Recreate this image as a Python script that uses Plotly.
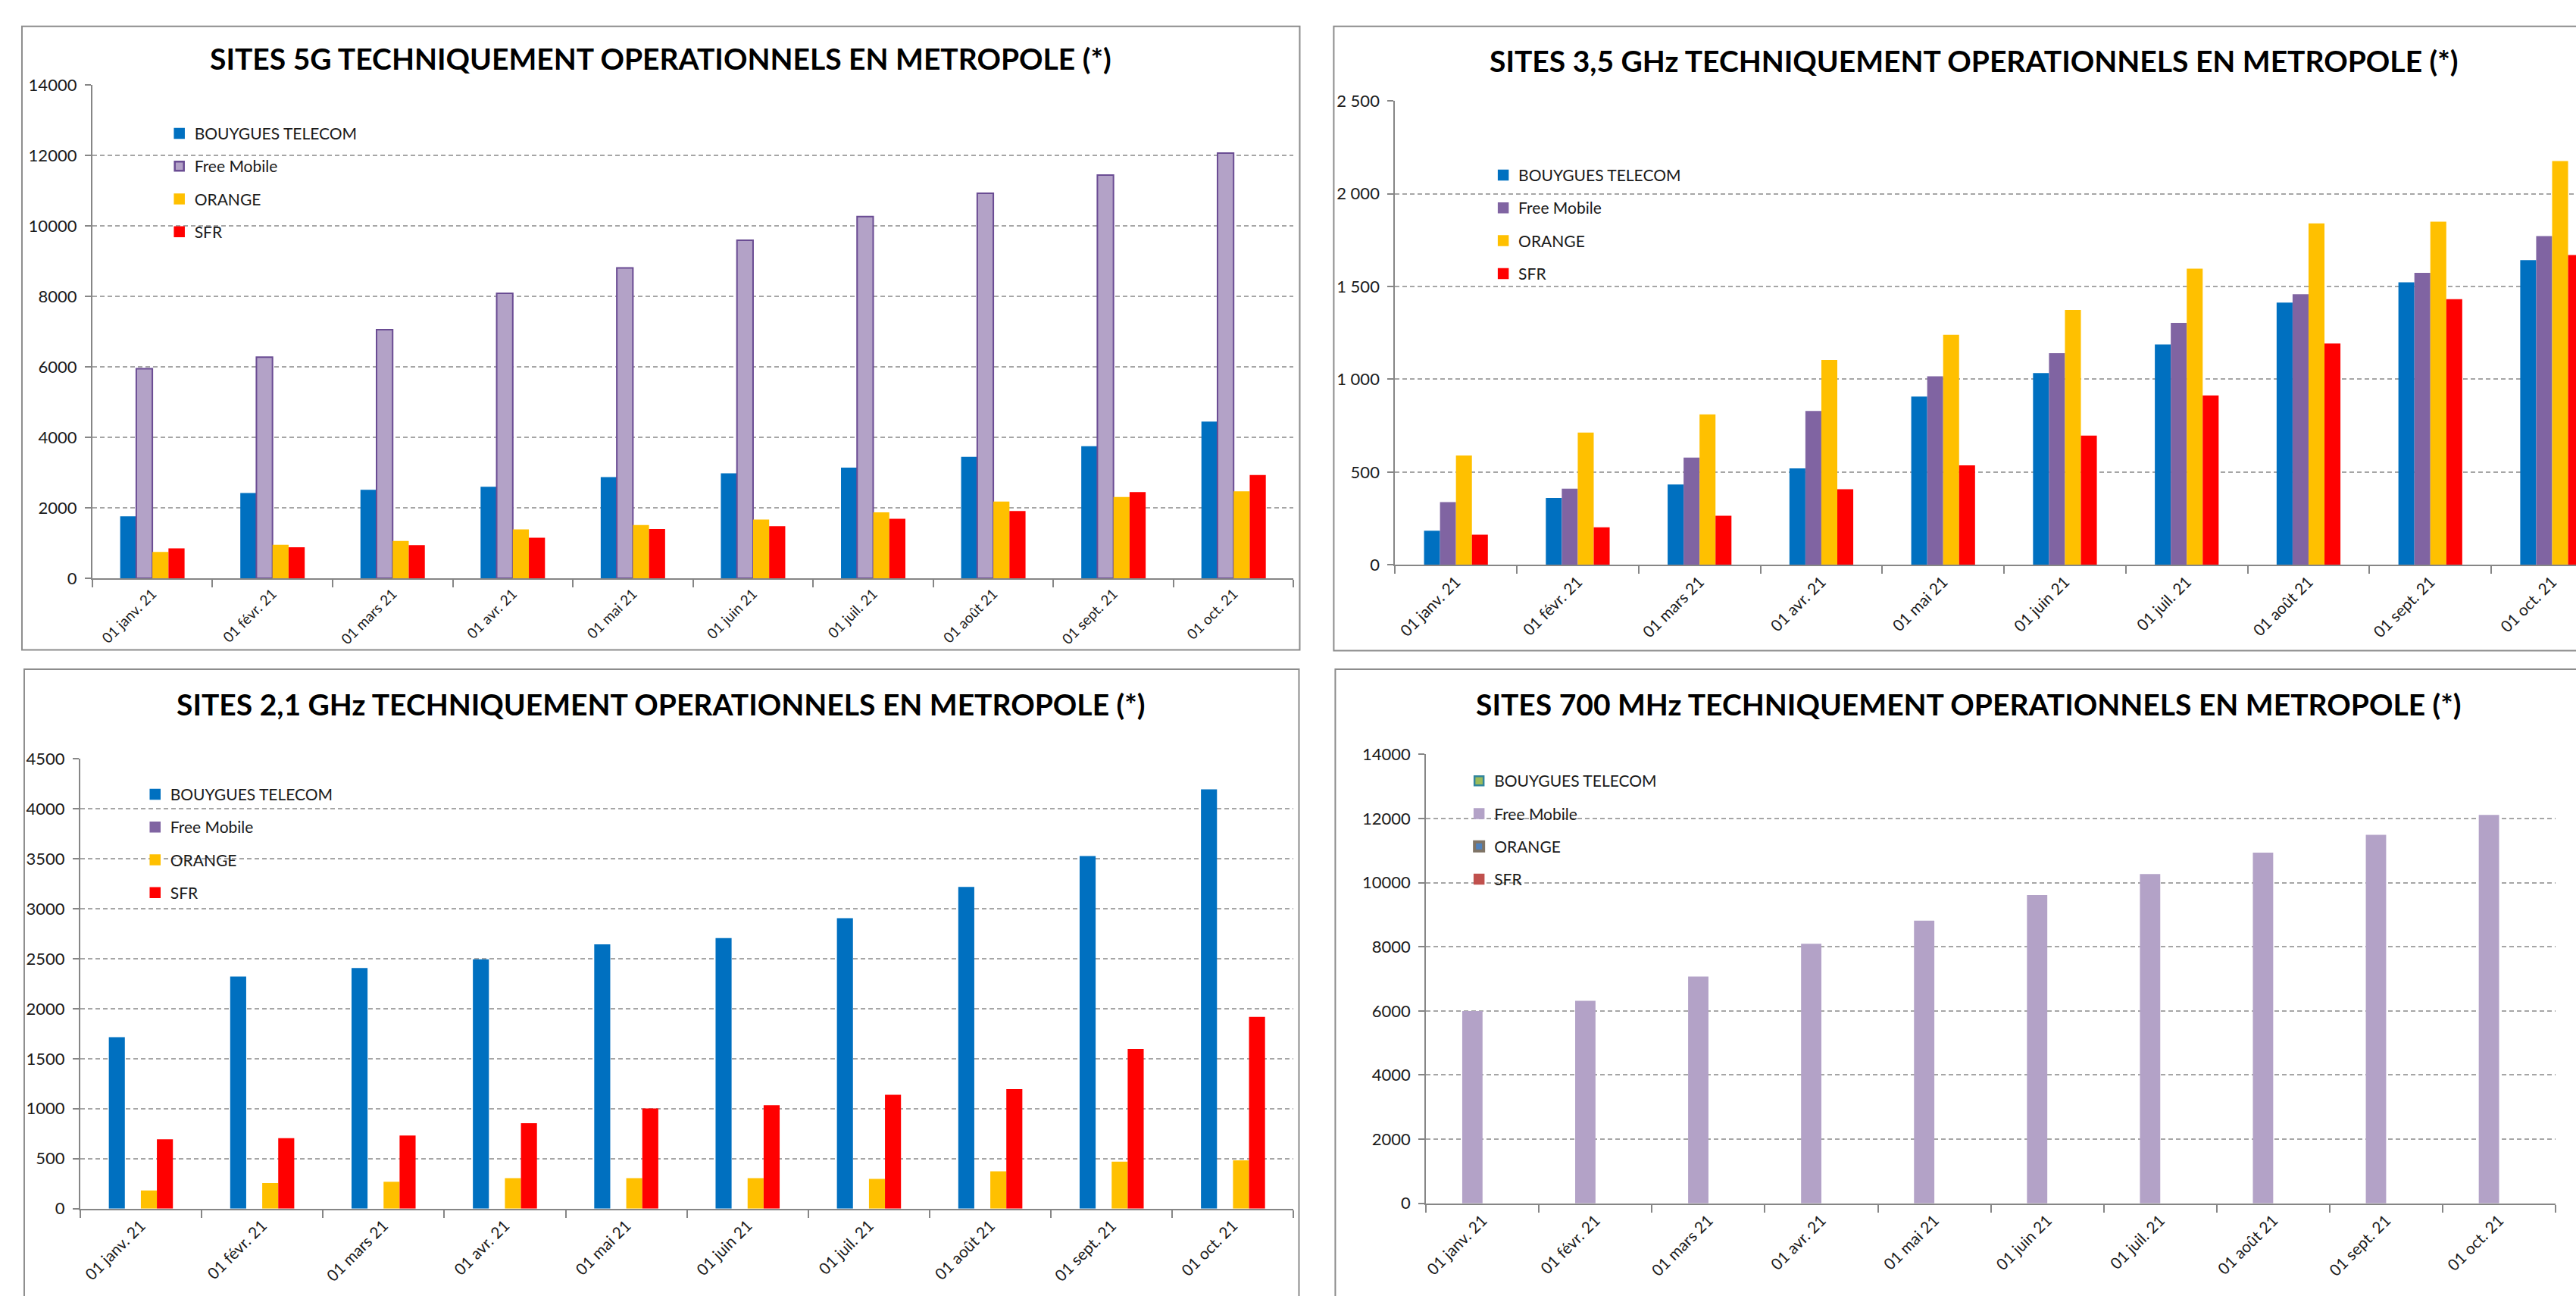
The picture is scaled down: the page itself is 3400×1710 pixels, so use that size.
import plotly.graph_objects as go

categories = ["01 janv. 21", "01 févr. 21", "01 mars 21", "01 avr. 21", "01 mai 21",
              "01 juin 21", "01 juil. 21", "01 août 21", "01 sept. 21", "01 oct. 21"]
operators = ["BOUYGUES TELECOM", "Free Mobile", "ORANGE", "SFR"]

# Panel 1 : sites 5G
g5_bouygues = [1760, 2420, 2510, 2600, 2870, 2980, 3140, 3450, 3750, 4450]
g5_free = [5950, 6280, 7060, 8090, 8810, 9600, 10270, 10930, 11450, 12070]
g5_orange = [750, 950, 1060, 1390, 1510, 1670, 1870, 2180, 2310, 2470]
g5_sfr = [850, 880, 940, 1150, 1400, 1480, 1690, 1910, 2450, 2930]

# Panel 2 : sites 3,5 GHz
f35_bouygues = [184, 360, 433, 520, 907, 1033, 1187, 1413, 1522, 1642]
f35_free = [338, 411, 578, 829, 1016, 1140, 1304, 1458, 1573, 1771]
f35_orange = [589, 713, 811, 1104, 1240, 1373, 1596, 1840, 1849, 2176]
f35_sfr = [162, 202, 264, 407, 536, 696, 913, 1193, 1431, 1669]

# Panel 3 : sites 2,1 GHz
f21_bouygues = [1715, 2322, 2407, 2493, 2643, 2707, 2906, 3218, 3526, 4195]
f21_free = [0, 0, 0, 0, 0, 0, 0, 0, 0, 0]
f21_orange = [182, 255, 268, 304, 304, 304, 296, 373, 470, 482]
f21_sfr = [693, 705, 730, 855, 1001, 1034, 1139, 1196, 1597, 1917]

# Panel 4 : sites 700 MHz
f700_bouygues = [0, 0, 0, 0, 0, 0, 0, 0, 0, 0]
f700_free = [5997, 6313, 7071, 8093, 8813, 9609, 10265, 10934, 11490, 12109]
f700_orange = [0, 0, 0, 0, 0, 0, 0, 0, 0, 0]
f700_sfr = [0, 0, 0, 0, 0, 0, 0, 0, 0, 0]

titles = [
    "SITES 5G TECHNIQUEMENT OPERATIONNELS EN METROPOLE (*)",
    "SITES 3,5 GHz TECHNIQUEMENT OPERATIONNELS EN METROPOLE (*)",
    "SITES 2,1 GHz TECHNIQUEMENT OPERATIONNELS EN METROPOLE (*)",
    "SITES 700 MHz TECHNIQUEMENT OPERATIONNELS EN METROPOLE (*)",
]

W, H = 3400, 1710
FONT = "Lato"
TXT = "#1a1a1a"

def px(x):
    return x / W

def py(y):
    return 1 - y / H

panels = [
    dict(series=[g5_bouygues, g5_free, g5_orange, g5_sfr],
         colors=["#0070C0", "#B3A2C7", "#FFC000", "#FF0000"],
         lines=[None, ("#6A4C93", 2), None, None],
         legline=["#0070C0", "#6A4C93", "#FFC000", "#FF0000"], leglw=[2.5, 2.5, 2.5, 2.5],
         bw=0.134, xdom=(117, 1705), ydom=(100, 761), yr=[0, 14000], dt=2000,
         xr=[-0.5, 9.5], fmt="d", leg=(212, 144), title=(868, 64), xfs=19),
    dict(series=[f35_bouygues, f35_free, f35_orange, f35_sfr],
         colors=["#0070C0", "#8064A2", "#FFC000", "#FF0000"],
         lines=[None, None, None, None],
         legline=["#0070C0", "#8064A2", "#FFC000", "#FF0000"], leglw=[2.5, 2.5, 2.5, 2.5],
         bw=0.131, xdom=(1839, 3400), ydom=(121, 743), yr=[0, 2500], dt=500,
         xr=[-0.5, 9.196], fmt=",d", leg=(1962, 200), title=(2604, 67), xfs=21),
    dict(series=[f21_bouygues, f21_free, f21_orange, f21_sfr],
         colors=["#0070C0", "#8064A2", "#FFC000", "#FF0000"],
         lines=[None, None, None, None],
         legline=["#0070C0", "#8064A2", "#FFC000", "#FF0000"], leglw=[2.5, 2.5, 2.5, 2.5],
         bw=0.132, xdom=(101, 1705), ydom=(1003, 1606), yr=[0, 4500], dt=500,
         xr=[-0.5, 9.5], fmt="d", leg=(180, 1030), title=(869, 930), xfs=21),
    dict(series=[f700_bouygues, f700_free, f700_orange, f700_sfr],
         colors=["#9BBB59", "#B3A2C7", "#4F81BD", "#C0504D"],
         lines=[None, None, None, None],
         legline=["#31859C", "#B3A2C7", "#7F7466", "#C0504D"], leglw=[2.5, 2.5, 4, 2.5],
         bw=0.18, xdom=(1880, 3373), ydom=(997, 1599), yr=[0, 14000], dt=2000,
         xr=[-0.5, 9.5], fmt="d", leg=(1930, 1012), title=(2597, 930), xfs=21),
]

fig = go.Figure()
layout = dict(
    width=W, height=H, margin=dict(l=0, r=0, t=0, b=0),
    paper_bgcolor="white", plot_bgcolor="white",
    barmode="overlay", separators=", ",
    font=dict(family=FONT, color=TXT, size=20),
    annotations=[], shapes=[],
)

for i, p in enumerate(panels):
    n = i + 1
    sfx = "" if n == 1 else str(n)
    legname = "legend" if n == 1 else f"legend{n}"
    bw = p["bw"]
    for k, (name, vals) in enumerate(zip(operators, p["series"])):
        ln = p["lines"][k]
        marker = dict(color=p["colors"][k])
        marker["line"] = dict(color=ln[0], width=ln[1]) if ln else dict(width=0)
        fig.add_trace(go.Bar(
            x=categories, y=vals, name=name,
            xaxis="x" + sfx, yaxis="y" + sfx,
            width=bw, offset=-2 * bw + k * bw,
            marker=marker, showlegend=False, legendgroup=f"p{n}_{k}",
            hoverinfo="x+y+name",
        ))
        # legend entry (no data of its own, only the legend swatch)
        fig.add_trace(go.Bar(
            x=[None], y=[None], name=name,
            xaxis="x" + sfx, yaxis="y" + sfx,
            marker=dict(color=p["colors"][k],
                        line=dict(color=p["legline"][k], width=p["leglw"][k])),
            legend=legname, legendgroup=f"p{n}_{k}", hoverinfo="skip",
        ))
    layout["xaxis" + sfx] = dict(
        domain=[px(p["xdom"][0]), px(p["xdom"][1])], anchor="y" + sfx,
        type="category", range=p["xr"], tickson="boundaries",
        ticks="outside", ticklen=10, tickwidth=2, tickcolor="#868686",
        showline=True, linecolor="#868686", linewidth=2, showgrid=False,
        tickangle=-45, tickfont=dict(family=FONT, size=p["xfs"], color=TXT),
        fixedrange=True,
    )
    layout["yaxis" + sfx] = dict(
        domain=[py(p["ydom"][1]), py(p["ydom"][0])], anchor="x" + sfx,
        range=p["yr"], dtick=p["dt"], tick0=0, tickformat=p["fmt"],
        ticks="outside", ticklen=8, tickwidth=2, tickcolor="#868686",
        ticklabelstandoff=6,
        showline=True, linecolor="#868686", linewidth=2,
        showgrid=True, gridcolor="#a6a6a6", gridwidth=1.5, griddash="6px,4px",
        zeroline=False, tickfont=dict(family=FONT, size=22, color=TXT),
        fixedrange=True,
    )
    layout[legname] = dict(
        x=px(p["leg"][0]), y=py(p["leg"][1]), xanchor="left", yanchor="top",
        bgcolor="rgba(0,0,0,0)", borderwidth=0, traceorder="grouped",
        tracegroupgap=13, font=dict(family=FONT, size=21, color=TXT),
    )
    layout["annotations"].append(dict(
        text=titles[i], x=px(p["title"][0]), y=py(p["title"][1]),
        xref="paper", yref="paper", xanchor="center", yanchor="middle",
        showarrow=False, font=dict(family=FONT, size=39, color="black", weight="bold"),
    ))

borders = [(24, 21, 1713, 857), (1758, 21, 3460, 858), (27, 883, 1712, 1760), (1760, 883, 3460, 1760)]
for (x0, y0, x1, y1) in borders:
    layout["shapes"].append(dict(
        type="rect", xref="paper", yref="paper",
        x0=px(x0), x1=px(x1), y0=py(y1), y1=py(y0),
        line=dict(color="#8c8c8c", width=2), fillcolor="rgba(0,0,0,0)", layer="below",
    ))

fig.update_layout(**layout)
fig.write_html("out.html", config={"displayModeBar": False},
               post_script="document.body.style.margin='0px';document.body.style.overflow='hidden';")
